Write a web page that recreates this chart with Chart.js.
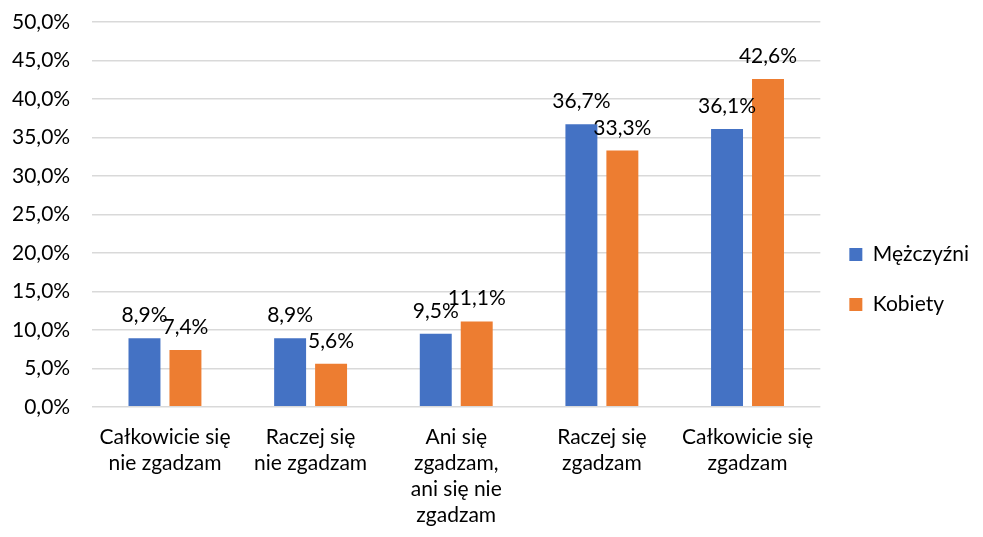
<!DOCTYPE html>
<html>
<head>
<meta charset="utf-8">
<script src="https://cdn.jsdelivr.net/npm/chart.js@4"></script>
<style>
  html, body { margin: 0; padding: 0; background: #fff; }
  #wrap { width: 983px; height: 537px; }
</style>
</head>
<body>
<div id="wrap"><canvas id="chart" width="983" height="537"></canvas></div>
<script>
// categories (multi-line labels as in the original)
var categories = [
    ['Całkowicie się', 'nie zgadzam'],
    ['Raczej się', 'nie zgadzam'],
    ['Ani się', 'zgadzam,', 'ani się nie', 'zgadzam'],
    ['Raczej się', 'zgadzam'],
    ['Całkowicie się', 'zgadzam']
];
var men = [8.9, 8.9, 9.5, 36.7, 36.1];
var women = [7.4, 5.6, 11.1, 33.3, 42.6];
var seriesNames = ['Mężczyźni', 'Kobiety'];

function pct(v) {
    return v.toFixed(1).replace('.', ',') + '%';
}

var FONT = 'Lato, "Open Sans", sans-serif';

// draw value labels above bars
var valueLabels = {
    id: 'valueLabels',
    afterDatasetsDraw: function(chart) {
        var ctx = chart.ctx;
        ctx.save();
        ctx.font = '21px ' + FONT;
        ctx.fillStyle = '#000';
        ctx.textAlign = 'center';
        ctx.textBaseline = 'alphabetic';
        chart.data.datasets.forEach(function(ds, i) {
            var meta = chart.getDatasetMeta(i);
            meta.data.forEach(function(bar, j) {
                ctx.fillText(pct(ds.data[j]), bar.x, bar.y - 16);
            });
        });
        ctx.restore();
    }
};

var ctx = document.getElementById('chart').getContext('2d');
var myChart = new Chart(ctx, {
    type: 'bar',
    data: {
        labels: categories,
        datasets: [{
            label: seriesNames[0],
            data: men,
            backgroundColor: '#4472C4',
            categoryPercentage: 0.5625,
            barPercentage: 0.78
        }, {
            label: seriesNames[1],
            data: women,
            backgroundColor: '#ED7D31',
            categoryPercentage: 0.5625,
            barPercentage: 0.78
        }]
    },
    options: {
        responsive: false,
        animation: false,
        layout: { padding: { top: 22, left: 10, right: 4, bottom: 0 } },
        plugins: {
            tooltip: { enabled: false },
            legend: {
                position: 'right',
                labels: {
                    font: { family: FONT, size: 21 },
                    color: '#000',
                    boxWidth: 13,
                    boxHeight: 13,
                    padding: 29
                }
            }
        },
        scales: {
            x: {
                grid: { display: false },
                border: { display: false },
                ticks: {
                    font: { family: FONT, size: 21, lineHeight: 1.24 },
                    color: '#000',
                    maxRotation: 0,
                    autoSkip: false,
                    padding: 9
                }
            },
            y: {
                min: 0,
                max: 50,
                ticks: {
                    stepSize: 5,
                    font: { family: FONT, size: 21 },
                    color: '#000',
                    padding: 2,
                    callback: function(v) { return pct(v); }
                },
                grid: {
                    color: '#D9D9D9',
                    lineWidth: 1.5,
                    drawTicks: true,
                    tickLength: 20,
                    tickColor: 'rgba(0,0,0,0)'
                },
                border: { display: false }
            }
        }
    },
    plugins: [valueLabels]
});
</script>
</body>
</html>
